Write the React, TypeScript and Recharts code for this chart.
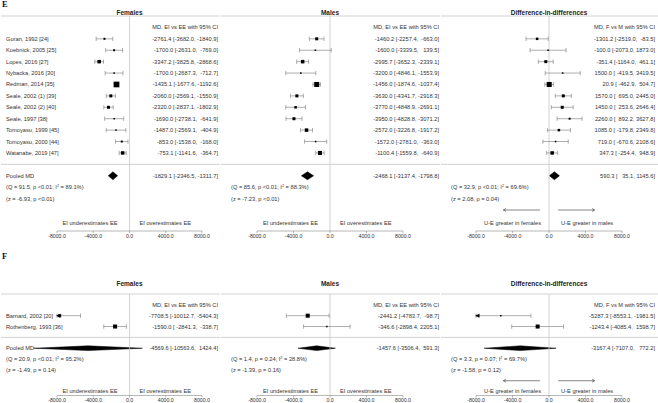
import {
  Area,
  ComposedChart,
  ErrorBar,
  ReferenceDot,
  ReferenceLine,
  Scatter,
  XAxis,
  YAxis,
  ZAxis,
} from "recharts"

type Row = [number, number, number, number] // MD, lower, upper, weight
type Pooled = [number, number, number]
type Stat = [number, string, number, number, string] // Q, p, I², z, p

const FONT = '"Liberation Sans", Arial, sans-serif'
const TEXT = "#333"
const RULE = "#c8c8c8"

const X_MIN = -8000
const X_MAX = 8000
const X_TICKS = [-8000, -4000, 0, 4000, 8000]

const TITLES = ["Females", "Males", "Difference-in-differences"]
const HEADERS = [
  "MD, EI vs EE with 95% CI",
  "MD, EI vs EE with 95% CI",
  "MD, F vs M with 95% CI",
]
const DIRECTIONS = [
  ["EI underestimates EE", "EI overestimates EE"],
  ["EI underestimates EE", "EI overestimates EE"],
  ["U-E greater in females", "U-E greater in males"],
]

const STUDIES_E = [
  "Goran, 1992 [24]",
  "Koebnick, 2005 [25]",
  "Lopes, 2016 [27]",
  "Nybacka, 2016 [30]",
  "Redman, 2014 [35]",
  "Seale, 2002 (1) [39]",
  "Seale, 2002 (2) [40]",
  "Seale, 1997 [38]",
  "Tomoyasu, 1999 [45]",
  "Tomoyasu, 2000 [44]",
  "Watanabe, 2019 [47]",
]
const STUDIES_F = ["Barnard, 2002 [20]", "Rothenberg, 1993 [36]"]

const E_FEMALES: Row[] = [
  [-2761.4, -3682.0, -1840.9, 2.2],
  [-1700.0, -2631.0, -769.0, 2.2],
  [-3347.2, -3825.8, -2868.6, 6.8],
  [-1700.0, -2687.3, -712.7, 1.3],
  [-1435.1, -1677.6, -1192.6, 18],
  [-2060.0, -2569.1, -1550.9, 5],
  [-2320.0, -2837.1, -1802.9, 5],
  [-1690.0, -2738.1, -641.9, 1.3],
  [-1487.0, -2569.1, -404.9, 1.3],
  [-853.0, -1538.0, -168.0, 2.2],
  [-753.1, -1141.6, -364.7, 6.8],
]
const E_MALES: Row[] = [
  [-1460.2, -2257.4, -663.0, 5],
  [-1600.0, -3339.5, 139.5, 1.3],
  [-2995.7, -3652.3, -2339.1, 6.8],
  [-3200.0, -4846.1, -1553.9, 1.3],
  [-1456.0, -1874.6, -1037.4, 14],
  [-3630.0, -4341.7, -2918.3, 5],
  [-3770.0, -4848.9, -2691.1, 3.5],
  [-3950.0, -4828.8, -3071.2, 5],
  [-2572.0, -3226.8, -1917.2, 6.8],
  [-1572.0, -2781.0, -363.0, 1.3],
  [-1100.4, -1559.8, -640.9, 9],
]
const E_DIFF: Row[] = [
  [-1301.2, -2519.0, -83.5, 3.5],
  [-100.0, -2073.0, 1873.0, 1.3],
  [-351.4, -1164.0, 461.1, 5],
  [1500.0, -419.5, 3419.5, 1.3],
  [20.9, -462.9, 504.7, 14],
  [1570.0, 695.0, 2445.0, 5],
  [1450.0, 253.6, 2646.4, 5],
  [2260.0, 892.2, 3627.8, 2.2],
  [1085.0, -179.8, 2349.8, 3.5],
  [719.0, -670.6, 2108.6, 1.3],
  [347.3, -254.4, 948.9, 6.8],
]
const F_FEMALES: Row[] = [
  [-7708.5, -10012.7, -5404.3, 5],
  [-1590.0, -2841.3, -338.7, 9],
]
const F_MALES: Row[] = [
  [-2441.2, -4783.7, -98.7, 9],
  [-346.6, -2898.4, 2205.1, 1.3],
]
const F_DIFF: Row[] = [
  [-5287.3, -8553.1, -1981.5, 1.3],
  [-1243.4, -4085.4, 1598.7, 9],
]

const E_POOLED: Pooled[] = [
  [-1829.1, -2346.5, -1311.7],
  [-2468.1, -3137.4, -1798.8],
  [590.3, 35.1, 1145.6],
]
const F_POOLED: Pooled[] = [
  [-4569.6, -10563.6, 1424.4],
  [-1457.6, -3506.4, 591.3],
  [-3167.4, -7107.0, 772.2],
]

const E_STATS: Stat[] = [
  [91.5, "<0.01", 89.1, -6.93, "<0.01"],
  [85.6, "<0.01", 88.3, -7.23, "<0.01"],
  [32.9, "<0.01", 69.6, 2.08, "0.04"],
]
const F_STATS: Stat[] = [
  [20.9, "<0.01", 95.2, -1.49, "0.14"],
  [1.4, "0.24", 28.8, -1.39, "0.16"],
  [3.3, "0.07", 69.7, -1.58, "0.12"],
]

// layout of the three columns (page px); padL/padR = where the -8000..8000 axis sits
const PANELS = [
  { left: 0, width: 220, padL: 57, padR: 18, textX: 6, rightX: 218, gaps: [12, 10] },
  { left: 220, width: 220, padL: 37, padR: 37, textX: 11, rightX: 219, gaps: [12, 10] },
  { left: 440, width: 218, padL: 36, padR: 36, textX: 11, rightX: 215, gaps: [8, 12] },
]

interface Section {
  letter: string
  letterTop: number
  top: number
  titleY: number
  plotH: number
  axisRow: number
  labelRow: number
  arrowRow: number
  diamondH: number
}

const SECTION_E: Section = {
  letter: "E",
  letterTop: 0,
  top: 0,
  titleY: 13,
  plotH: 215,
  axisRow: 16.84,
  labelRow: 16.14,
  arrowRow: 15,
  diamondH: 0.35,
}
const SECTION_F: Section = {
  letter: "F",
  letterTop: 252,
  top: 278,
  titleY: 284,
  plotH: 101.5,
  axisRow: 7.36,
  labelRow: 6.95,
  arrowRow: 6,
  diamondH: 0.22,
}

const MARGIN_TOP = 16
const AXIS_H = 14
const Y_W = 1

const pText = (p: string) => (p.startsWith("<") ? `p ${p}` : `p = ${p}`)

function Square(props: any) {
  const s = Math.max(1.2, Math.sqrt(props.size ?? 2))
  return <rect x={props.cx - s / 2} y={props.cy - s / 2} width={s} height={s} fill="#000" />
}

function ClipArrow(props: any) {
  const { cx, cy } = props
  const d = props.payload.dir
  const pts = `${cx + d},${cy} ${cx - d * 3.5},${cy - 2} ${cx - d * 3.5},${cy + 2}`
  return <polygon points={pts} fill="#000" />
}

interface PanelProps {
  section: Section
  idx: number
  studies: string[]
  rows: Row[]
  pooled: Pooled
  stat: Stat
}

function Panel({ section, idx, studies, rows, pooled, stat }: PanelProps) {
  const pn = PANELS[idx]
  const n = rows.length
  const showNames = idx === 0
  const height = MARGIN_TOP + section.plotH + AXIS_H

  // widen the x domain so that -8000..8000 lands on the axis span
  const plotW = pn.width - Y_W
  const perPx = (X_MAX - X_MIN) / (plotW - (pn.padL - Y_W) - pn.padR)
  const xDomain = [X_MIN - (pn.padL - Y_W) * perPx, X_MAX + pn.padR * perPx]

  const points = rows.map(([md, lo, hi, w], i) => ({
    x: md,
    y: i,
    w,
    err: [md - Math.max(lo, X_MIN), Math.min(hi, X_MAX) - md],
  }))
  const clipped = rows.flatMap(([, lo, hi], i) => [
    ...(lo < X_MIN ? [{ x: X_MIN, y: i, dir: -1 }] : []),
    ...(hi > X_MAX ? [{ x: X_MAX, y: i, dir: 1 }] : []),
  ])
  const py = n + 1
  const diamond = [
    { x: pooled[1], r: [py, py] },
    { x: pooled[0], r: [py - section.diamondH, py + section.diamondH] },
    { x: pooled[2], r: [py, py] },
  ]

  const all = [...rows.map((r) => [r[1], r[2]]), [pooled[1], pooled[2]]]
  const wLo = Math.max(...all.map((a) => a[0].toFixed(1).length))
  const wHi = Math.max(...all.map((a) => a[1].toFixed(1).length))
  const fmt = (md: number, lo: number, hi: number) =>
    `${md.toFixed(1)} [${lo.toFixed(1).padStart(wLo)}, ${hi.toFixed(1).padStart(wHi)}]`

  const yTicks = [-1, ...rows.map((_, i) => i), n + 1, n + 2, n + 3]

  const renderTick = (props: any) => {
    const { y, payload } = props
    const v = payload.value
    const common = {
      fontSize: 5.7,
      fill: TEXT,
      fontFamily: FONT,
      dy: "0.35em",
      style: { whiteSpace: "pre" as const },
    }
    let left: any = null
    let right: string | null = null
    if (v === -1) right = HEADERS[idx]
    else if (v >= 0 && v < n) {
      if (showNames) left = studies[v]
      right = fmt(rows[v][0], rows[v][1], rows[v][2])
    } else if (v === n + 1) {
      if (showNames) left = "Pooled MD"
      right = fmt(pooled[0], pooled[1], pooled[2])
    } else if (v === n + 2) {
      left = (
        <>
          <tspan>{`(Q = ${stat[0].toFixed(1)}, ${pText(stat[1])}; I`}</tspan>
          <tspan dy={-2} fontSize={3.8}>2</tspan>
          <tspan dy={2}>{` = ${stat[2].toFixed(1)}%)`}</tspan>
        </>
      )
    } else if (v === n + 3) {
      left = `(z = ${stat[3].toFixed(2)}, ${pText(stat[4])})`
    }
    return (
      <g>
        {left != null && (
          <text x={pn.textX} y={y} textAnchor="start" {...common}>
            {left}
          </text>
        )}
        {right != null && (
          <text x={pn.rightX} y={y} textAnchor="end" {...common}>
            {right}
          </text>
        )}
      </g>
    )
  }

  const DirLabels = (props: any) => (
    <g fontSize={5.7} fill={TEXT} fontFamily={FONT}>
      <text x={props.cx - pn.gaps[0]} y={props.cy} dy="0.35em" textAnchor="end">
        {DIRECTIONS[idx][0]}
      </text>
      <text x={props.cx + pn.gaps[1]} y={props.cy} dy="0.35em" textAnchor="start">
        {DIRECTIONS[idx][1]}
      </text>
    </g>
  )

  const headLeft = (p: any) => (
    <polyline
      points={`${p.cx + 2.5},${p.cy - 1.5} ${p.cx},${p.cy} ${p.cx + 2.5},${p.cy + 1.5}`}
      fill="none"
      stroke="#333"
      strokeWidth={0.6}
    />
  )
  const headRight = (p: any) => (
    <polyline
      points={`${p.cx - 2.5},${p.cy - 1.5} ${p.cx},${p.cy} ${p.cx - 2.5},${p.cy + 1.5}`}
      fill="none"
      stroke="#333"
      strokeWidth={0.6}
    />
  )

  return (
    <div style={{ position: "absolute", left: pn.left, top: section.top }}>
      <ComposedChart
        width={pn.width}
        height={height}
        margin={{ top: MARGIN_TOP, right: 0, bottom: 0, left: 0 }}
      >
        <XAxis
          type="number"
          dataKey="x"
          domain={xDomain}
          allowDataOverflow
          ticks={X_TICKS}
          interval={0}
          tickFormatter={(v) => Number(v).toFixed(1)}
          axisLine={false}
          tickLine={{ stroke: "#888", strokeWidth: 0.6 }}
          tickSize={2}
          tickMargin={1}
          height={AXIS_H}
          tick={{ fontSize: 5.2, fill: TEXT, fontFamily: FONT }}
        />
        <YAxis
          type="number"
          dataKey="y"
          domain={[-2, section.axisRow]}
          allowDataOverflow
          reversed
          width={Y_W}
          ticks={yTicks}
          interval={0}
          axisLine={false}
          tickLine={false}
          tick={renderTick}
        />
        <ZAxis type="number" dataKey="w" domain={[0, 20]} range={[0, 36]} />
        <ReferenceLine y={-2} stroke={RULE} strokeWidth={0.8} />
        <ReferenceLine y={n} stroke={RULE} strokeWidth={0.8} />
        <ReferenceLine x={0} stroke={RULE} strokeWidth={0.8} />
        <ReferenceLine
          segment={[
            { x: X_MIN, y: section.axisRow },
            { x: X_MAX, y: section.axisRow },
          ]}
          stroke="#888"
          strokeWidth={0.6}
        />
        {idx === 2 && (
          <ReferenceLine
            segment={[
              { x: -1000, y: section.arrowRow },
              { x: -5000, y: section.arrowRow },
            ]}
            stroke="#333"
            strokeWidth={0.6}
          />
        )}
        {idx === 2 && (
          <ReferenceLine
            segment={[
              { x: 1000, y: section.arrowRow },
              { x: 5000, y: section.arrowRow },
            ]}
            stroke="#333"
            strokeWidth={0.6}
          />
        )}
        {idx === 2 && <ReferenceDot x={-5000} y={section.arrowRow} shape={headLeft} />}
        {idx === 2 && <ReferenceDot x={5000} y={section.arrowRow} shape={headRight} />}
        <Area
          data={diamond}
          dataKey="r"
          type="linear"
          stroke="#000"
          strokeWidth={0.5}
          fill="#000"
          fillOpacity={1}
          dot={false}
          activeDot={false}
          isAnimationActive={false}
        />
        <Scatter data={points} shape={Square} isAnimationActive={false}>
          <ErrorBar dataKey="err" direction="x" width={2.2} stroke="#777" strokeWidth={0.6} />
        </Scatter>
        <Scatter data={clipped} shape={ClipArrow} isAnimationActive={false} />
        <Scatter data={[{ x: 0, y: section.labelRow }]} shape={DirLabels} isAnimationActive={false} />
      </ComposedChart>
    </div>
  )
}

function SectionBlock({
  section,
  studies,
  data,
  pooled,
  stats,
}: {
  section: Section
  studies: string[]
  data: Row[][]
  pooled: Pooled[]
  stats: Stat[]
}) {
  return (
    <>
      <div
        style={{
          position: "absolute",
          left: 2,
          top: section.letterTop,
          fontFamily: '"Liberation Serif", "DejaVu Serif", serif',
          fontWeight: "bold",
          fontSize: 8.5,
          lineHeight: "9px",
          color: "#111",
        }}
      >
        {section.letter}
      </div>
      {PANELS.map((pn, i) => (
        <div
          key={`t${i}`}
          style={{
            position: "absolute",
            left: pn.left + pn.padL + (pn.width - pn.padL - pn.padR) / 2 - 60,
            width: 120,
            top: section.titleY - 4,
            textAlign: "center",
            fontFamily: FONT,
            fontWeight: "bold",
            fontSize: 6.5,
            lineHeight: "8px",
            color: "#222",
          }}
        >
          {TITLES[i]}
        </div>
      ))}
      {PANELS.map((_, i) => (
        <Panel
          key={i}
          section={section}
          idx={i}
          studies={studies}
          rows={data[i]}
          pooled={pooled[i]}
          stat={stats[i]}
        />
      ))}
    </>
  )
}

export default function App() {
  return (
    <div
      style={{
        position: "absolute",
        left: 0,
        top: 0,
        width: 658,
        height: 403,
        overflow: "hidden",
        background: "#fff",
      }}
    >
      <SectionBlock
        section={SECTION_E}
        studies={STUDIES_E}
        data={[E_FEMALES, E_MALES, E_DIFF]}
        pooled={E_POOLED}
        stats={E_STATS}
      />
      <SectionBlock
        section={SECTION_F}
        studies={STUDIES_F}
        data={[F_FEMALES, F_MALES, F_DIFF]}
        pooled={F_POOLED}
        stats={F_STATS}
      />
    </div>
  )
}
